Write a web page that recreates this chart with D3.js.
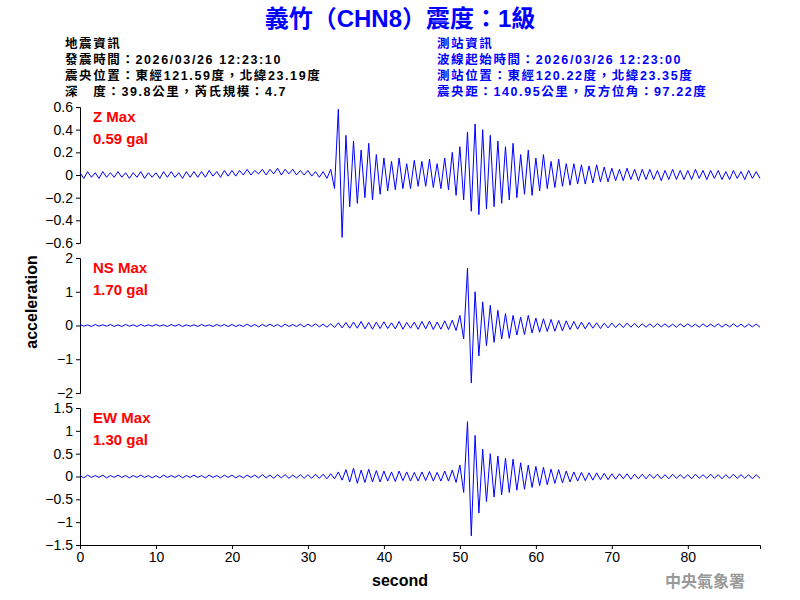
<!DOCTYPE html><html><head><meta charset="utf-8">
<script src="https://cdn.jsdelivr.net/npm/d3@7"></script>
<style>body{margin:0;background:#fff}</style></head><body>
<svg id="c" width="800" height="600"></svg>
<script>
const step = 0.5;
const zValues = [
0.02,-0.03,0.03,-0.02,0.02,-0.03,0.03,-0.02,0.02,-0.02,
0.03,-0.02,0.02,-0.03,0.02,-0.02,0.03,-0.03,0.02,-0.02,
0.02,-0.03,0.03,-0.02,0.03,-0.02,0.02,-0.03,0.03,-0.02,
0.03,-0.02,0.03,-0.02,0.04,-0.01,0.03,-0.02,0.04,-0.01,
0.04,-0.01,0.04,0.00,0.05,0.00,0.04,0.01,0.05,0.00,
0.05,0.01,0.06,0.00,0.05,0.01,0.05,0.00,0.04,0.00,
0.04,-0.01,0.03,-0.02,0.03,-0.03,0.05,-0.12,0.58,-0.55,
0.35,-0.28,0.30,-0.25,0.22,-0.20,0.28,-0.22,0.18,-0.17,
0.15,-0.14,0.12,-0.13,0.15,-0.12,0.10,-0.12,0.13,-0.10,
0.12,-0.10,0.14,-0.11,0.10,-0.12,0.15,-0.13,0.20,-0.18,
0.25,-0.22,0.38,-0.32,0.45,-0.35,0.40,-0.30,0.35,-0.28,
0.30,-0.25,0.25,-0.22,0.28,-0.20,0.18,-0.17,0.22,-0.18,
0.15,-0.14,0.18,-0.12,0.12,-0.11,0.14,-0.10,0.10,-0.09,
0.10,-0.08,0.09,-0.08,0.08,-0.07,0.09,-0.06,0.07,-0.06,
0.06,-0.05,0.05,-0.05,0.06,-0.04,0.05,-0.05,0.05,-0.04,
0.05,-0.04,0.04,-0.05,0.04,-0.04,0.05,-0.04,0.04,-0.04,
0.04,-0.04,0.05,-0.03,0.04,-0.04,0.04,-0.03,0.04,-0.04,
0.03,-0.04,0.04,-0.03,0.03,-0.04,0.04,-0.03,0.03,-0.03];
const nsValues = [
0.03,-0.02,0.02,-0.03,0.03,-0.02,0.02,-0.02,0.03,-0.03,
0.02,-0.03,0.03,-0.02,0.02,-0.03,0.03,-0.02,0.02,-0.02,
0.03,-0.02,0.02,-0.03,0.03,-0.02,0.03,-0.03,0.02,-0.02,
0.02,-0.03,0.03,-0.02,0.02,-0.03,0.03,-0.02,0.03,-0.03,
0.03,-0.03,0.02,-0.03,0.04,-0.03,0.03,-0.04,0.03,-0.03,
0.04,-0.03,0.03,-0.04,0.04,-0.03,0.03,-0.03,0.04,-0.04,
0.04,-0.03,0.05,-0.04,0.04,-0.05,0.05,-0.06,0.08,-0.07,
0.09,-0.08,0.10,-0.08,0.12,-0.10,0.09,-0.11,0.10,-0.09,
0.11,-0.09,0.08,-0.10,0.12,-0.11,0.09,-0.08,0.10,-0.11,
0.12,-0.10,0.13,-0.12,0.10,-0.11,0.14,-0.12,0.16,-0.15,
0.30,-0.40,1.70,-1.70,1.00,-0.90,0.70,-0.60,0.60,-0.50,
0.45,-0.40,0.35,-0.38,0.30,-0.28,0.25,-0.27,0.30,-0.22,
0.22,-0.20,0.20,-0.18,0.18,-0.17,0.15,-0.16,0.14,-0.12,
0.12,-0.11,0.10,-0.10,0.09,-0.08,0.08,-0.09,0.07,-0.07,
0.07,-0.06,0.06,-0.06,0.07,-0.05,0.06,-0.06,0.05,-0.05,
0.05,-0.05,0.06,-0.04,0.05,-0.05,0.04,-0.05,0.05,-0.04,
0.05,-0.04,0.04,-0.05,0.05,-0.04,0.04,-0.04,0.05,-0.05,
0.04,-0.04,0.05,-0.04,0.04,-0.05,0.04,-0.04,0.04,-0.05];
const ewValues = [
0.02,-0.03,0.03,-0.02,0.02,-0.02,0.03,-0.03,0.02,-0.02,
0.03,-0.02,0.02,-0.03,0.02,-0.02,0.03,-0.02,0.02,-0.03,
0.02,-0.03,0.03,-0.02,0.02,-0.02,0.03,-0.03,0.02,-0.02,
0.03,-0.02,0.02,-0.03,0.03,-0.02,0.02,-0.03,0.03,-0.02,
0.03,-0.03,0.02,-0.03,0.03,-0.02,0.03,-0.03,0.04,-0.03,
0.03,-0.04,0.04,-0.03,0.04,-0.04,0.03,-0.03,0.04,-0.04,
0.04,-0.04,0.05,-0.04,0.05,-0.05,0.06,-0.05,0.10,-0.08,
0.15,-0.12,0.18,-0.15,0.14,-0.13,0.16,-0.12,0.13,-0.12,
0.12,-0.10,0.10,-0.11,0.12,-0.09,0.10,-0.10,0.09,-0.10,
0.10,-0.09,0.11,-0.10,0.09,-0.10,0.12,-0.10,0.14,-0.13,
0.25,-0.35,1.20,-1.30,0.90,-0.80,0.60,-0.55,0.50,-0.45,
0.45,-0.40,0.40,-0.35,0.38,-0.30,0.30,-0.28,0.25,-0.24,
0.22,-0.20,0.20,-0.18,0.16,-0.15,0.15,-0.14,0.12,-0.12,
0.10,-0.10,0.09,-0.09,0.08,-0.08,0.08,-0.07,0.07,-0.07,
0.06,-0.06,0.06,-0.05,0.06,-0.06,0.05,-0.05,0.05,-0.05,
0.05,-0.04,0.05,-0.05,0.04,-0.05,0.05,-0.04,0.04,-0.04,
0.04,-0.05,0.05,-0.04,0.04,-0.04,0.05,-0.04,0.04,-0.05,
0.04,-0.04,0.05,-0.04,0.04,-0.04,0.04,-0.05,0.04,-0.04];
const zTicks = [-0.6,-0.4,-0.2,0,0.2,0.4,0.6];
const nsTicks = [-2,-1,0,1,2];
const ewTicks = [-1.5,-1,-0.5,0,0.5,1,1.5];
const xTicks = [0,10,20,30,40,50,60,70,80];
const panels = [
 {vals:zValues, ticks:zTicks, dom:[-0.6,0.6], top:107, bot:243, l1:"Z Max", l2:"0.59 gal"},
 {vals:nsValues, ticks:nsTicks, dom:[-2,2], top:258, bot:393, l1:"NS Max", l2:"1.70 gal"},
 {vals:ewValues, ticks:ewTicks, dom:[-1.5,1.5], top:408, bot:545, l1:"EW Max", l2:"1.30 gal"}];
const svg = d3.select("#c");
const F = "Arial, 'Liberation Sans', sans-serif";
const FC = "Arial, 'Liberation Sans', 'Noto Sans CJK TC', sans-serif";
const x = d3.scaleLinear().domain([0,89.5]).range([80,760]);
svg.append("text").attr("x",400).attr("y",27).attr("text-anchor","middle").attr("fill","#0000ff")
 .attr("font-family",FC).attr("font-weight","bold").attr("font-size",24).text("義竹（CHN8）震度：1級");
const leftInfo=["地震資訊","發震時間：2026/03/26 12:23:10","震央位置：東經121.59度，北緯23.19度","深　度：39.8公里，芮氏規模：4.7"];
const rightInfo=["測站資訊","波線起始時間：2026/03/26 12:23:00","測站位置：東經120.22度，北緯23.35度","震央距：140.95公里，反方位角：97.22度"];
leftInfo.forEach((t,i)=>svg.append("text").attr("x",65).attr("y",48+i*16).attr("font-size",12.5).attr("letter-spacing",1.6).attr("font-weight","bold").attr("font-family",FC).attr("fill","#000").text(t));
rightInfo.forEach((t,i)=>svg.append("text").attr("x",437).attr("y",48+i*16).attr("font-size",12.5).attr("letter-spacing",1.6).attr("font-weight","bold").attr("font-family",FC).attr("fill","#0000ff").text(t));
panels.forEach(p=>{
  const y = d3.scaleLinear().domain(p.dom).range([p.bot,p.top]);
  const g = svg.append("g").attr("transform","translate(80,0)");
  g.call(d3.axisLeft(y).tickValues(p.ticks).tickSize(4).tickFormat(d3.format("~g")));
  g.selectAll("text").attr("font-size",14).attr("font-family",F).attr("fill","#000");
  g.selectAll("line,path").attr("stroke","#000");
  svg.append("path").datum(p.vals).attr("fill","none").attr("stroke","#0000ff").attr("stroke-width",1)
   .attr("d",d3.line().x((d,i)=>x(i*step)).y(d=>y(d)));
  svg.append("text").attr("x",93).attr("y",p.top+15).attr("fill","red").attr("font-size",15).attr("font-weight","bold").attr("font-family",F).text(p.l1);
  svg.append("text").attr("x",93).attr("y",p.top+37).attr("fill","red").attr("font-size",15).attr("font-weight","bold").attr("font-family",F).text(p.l2);
});
const gx = svg.append("g").attr("transform","translate(0,545)");
gx.call(d3.axisBottom(x).tickValues(xTicks).tickSize(4).tickFormat(d3.format("d")));
gx.selectAll("text").attr("font-size",14).attr("font-family",F).attr("fill","#000");
gx.selectAll("line,path").attr("stroke","#000");
svg.append("text").attr("x",400).attr("y",586).attr("text-anchor","middle").attr("font-size",16).attr("font-weight","bold").attr("font-family",F).text("second");
svg.append("text").attr("transform","translate(37,302) rotate(-90)").attr("text-anchor","middle").attr("font-size",16).attr("font-weight","bold").attr("font-family",F).text("acceleration");
svg.append("text").attr("x",745).attr("y",587).attr("text-anchor","end").attr("font-size",16).attr("font-weight","bold").attr("fill","#999").attr("font-family",FC).text("中央氣象署");
</script></body></html>
